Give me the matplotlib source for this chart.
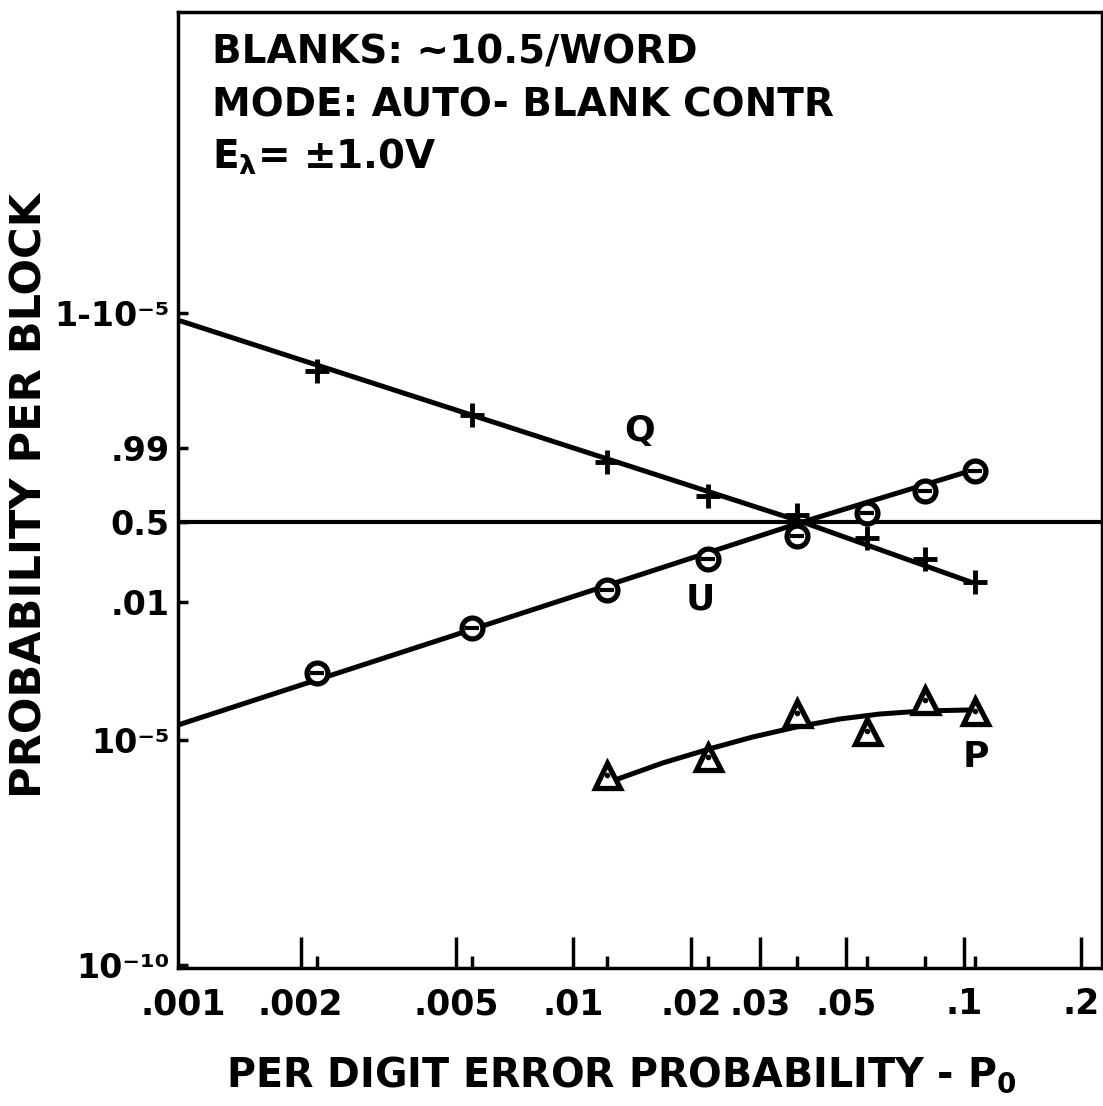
import numpy as np
import matplotlib
matplotlib.use('Agg')
import matplotlib.pyplot as plt
from matplotlib.ticker import FixedLocator, FixedFormatter, NullLocator

# measured points, x = per digit error probability P0
P0 = [0.0022, 0.0055, 0.0122, 0.0221, 0.0373, 0.0564, 0.0794, 0.1067]
Q_VALS = [0.99981, 0.99814, 0.9766, 0.834, 0.608, 0.285, 0.106, 0.0306]
U_VALS = [2.86e-4, 2.72e-3, 0.0196, 0.106, 0.309, 0.636, 0.873, 0.960]
P_X = P0[2:]
P_VALS = [1.67e-6, 4.19e-6, 3.86e-5, 1.57e-5, 7.41e-5, 4.27e-5]

# hand drawn fit lines
Q_LINE_X = [0.00097, 0.0386, 0.1042]
Q_LINE_P = [0.9999856, 0.5, 0.0306]
U_LINE_X = [0.00097, 0.0386, 0.1037]
U_LINE_P = [2.12e-5, 0.5, 0.960]
P_LINE_X = [0.01237, 0.01691, 0.02272, 0.02877, 0.03729, 0.04809, 0.06089,
            0.0785, 0.1024]
P_LINE_P = [1.17e-6, 3.08e-6, 6.64e-6, 1.16e-5, 1.92e-5, 2.86e-5, 3.67e-5,
            4.27e-5, 4.49e-5]

X_TICKS = [0.001, 0.002, 0.005, 0.01, 0.02, 0.03, 0.05, 0.1, 0.2]
X_LABELS = ['.001', '.002', '.005', '.01', '.02', '.03', '.05', '.1', '.2']
Y_TICKS = [1e-10, 1e-5, 0.01, 0.5, 0.99, 1 - 1e-5]
Y_LABELS = ['10⁻¹⁰', '10⁻⁵', '.01', '0.5', '.99', '1-10⁻⁵']

# graph paper: log-odds axis, hand ruled (piecewise)
LOGIT_PTS = [-20, -10, -5, -2, 0, 2, 5, 15]
PAPER_PTS = [-447, 3, 228, 366, 446, 520, 655, 1105]


def forward(p):
    p = np.clip(np.asarray(p, dtype=float), 1e-300, 1 - 1e-16)
    lg = np.log10(p) - np.log10(1 - p)
    return np.interp(lg, LOGIT_PTS, PAPER_PTS)


def inverse(u):
    lg = np.interp(np.asarray(u, dtype=float), PAPER_PTS, LOGIT_PTS)
    return 1.0 / (1.0 + 10.0 ** (-lg))


plt.rcParams['font.family'] = 'DejaVu Sans'
plt.rcParams['font.weight'] = 'bold'
plt.rcParams['mathtext.default'] = 'bf'

fig = plt.figure(figsize=(11.03, 11.06), dpi=100)
ax = fig.add_axes([178 / 1103, 138 / 1106, 924 / 1103, 956 / 1106])

ax.set_xscale('log')
ax.set_yscale('function', functions=(forward, inverse))
ax.set_xlim(0.00097, 0.226)
ax.set_ylim(inverse(0), inverse(956))

k = 'black'
ax.axhline(0.5, color=k, lw=3)
ax.plot(Q_LINE_X, Q_LINE_P, color=k, lw=3.6)
ax.plot(U_LINE_X, U_LINE_P, color=k, lw=3.6)
ax.plot(P_LINE_X, P_LINE_P, color=k, lw=3.6)

ax.plot(P0, Q_VALS, ls='none', marker='+', ms=17, mew=3.5, color=k)
ax.plot(P0, U_VALS, ls='none', marker='o', ms=15, mew=3.8, mfc='white', mec=k)
ax.plot(P0, U_VALS, ls='none', marker='_', ms=10, mew=3, color=k)
ax.plot(P_X, P_VALS, ls='none', marker='^', ms=18, mew=3.8, mfc='white', mec=k)
ax.plot(P_X, P_VALS, ls='none', marker='.', ms=6, color=k)

ax.xaxis.set_major_locator(FixedLocator(X_TICKS))
ax.xaxis.set_major_formatter(FixedFormatter(X_LABELS))
ax.xaxis.set_minor_locator(FixedLocator(P0))
ax.xaxis.set_minor_formatter(FixedFormatter([''] * len(P0)))
ax.yaxis.set_major_locator(FixedLocator(Y_TICKS))
ax.yaxis.set_major_formatter(FixedFormatter(Y_LABELS))
ax.yaxis.set_minor_locator(NullLocator())

ax.tick_params(axis='x', which='major', direction='in', length=22, width=2.5,
               labelsize=25, pad=14)
ax.tick_params(axis='x', which='minor', direction='in', length=9, width=2.5)
ax.tick_params(axis='y', which='major', direction='in', length=7, width=2.5,
               labelsize=24, pad=6)
ax.tick_params(top=False, right=False)
ax.xaxis.get_major_ticks()[0].tick1line.set_visible(False)

for s in ax.spines.values():
    s.set_linewidth(2.5)

hdr = dict(transform=ax.transAxes, fontsize=28, ha='left', va='center')
ax.text(0.037, 0.958, 'BLANKS: ~10.5/WORD', **hdr)
ax.text(0.037, 0.902, 'MODE: AUTO- BLANK CONTR', **hdr)
ax.text(0.037, 0.849, r'E$_\lambda$= ±1.0V', **hdr)

lab = dict(transform=ax.transAxes, fontsize=26, ha='center', va='center')
ax.text(0.50, 0.562, 'Q', **lab)
ax.text(0.565, 0.385, 'U', **lab)
ax.text(0.863, 0.221, 'P', **lab)

fig.text(0.563, 0.028, r'PER DIGIT ERROR PROBABILITY - P$_0$', fontsize=28.5,
         ha='center', va='center')
fig.text(0.027, 0.552, 'PROBABILITY PER BLOCK', fontsize=31, rotation=90,
         ha='center', va='center')

fig.savefig('out.png', dpi=100)
